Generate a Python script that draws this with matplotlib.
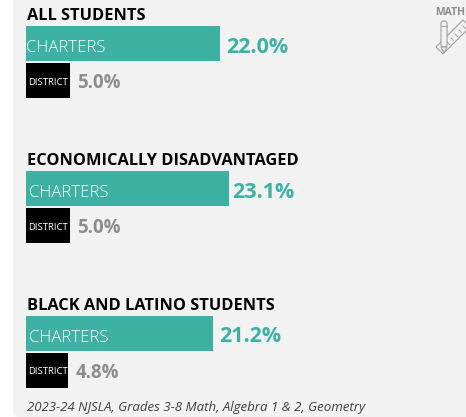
import matplotlib
matplotlib.use('Agg')
import matplotlib.pyplot as plt
from matplotlib.patches import FancyBboxPatch, Polygon

plt.rcParams['font.family'] = ['Open Sans', 'DejaVu Sans']

# data
groups = ['ALL STUDENTS', 'ECONOMICALLY DISADVANTAGED', 'BLACK AND LATINO STUDENTS']
charters = [22.0, 23.1, 21.2]
district = [5.0, 5.0, 4.8]
source = '2023-24 NJSLA, Grades 3-8 Math, Algebra 1 & 2, Geometry'

TEAL = '#3eb1a5'
GREY = '#8c8c8c'
PX = 8.8  # pixels per percentage point

fig = plt.figure(figsize=(4.66, 4.17), dpi=100, facecolor='white')

# page coordinates, in pixels
bg = fig.add_axes([0, 0, 1, 1])
bg.set_xlim(0, 466)
bg.set_ylim(417, 0)
bg.axis('off')
bg.add_patch(FancyBboxPatch((13, -20), 480, 437, boxstyle='round,pad=0,rounding_size=6',
                            fc='#f2f2f2', ec='none'))

# value axes, x is in percent
ax = fig.add_axes([0, 0, 1, 1])
ax.set_xlim(-26 / PX, 440 / PX)
ax.set_ylim(417, 0)
ax.axis('off')

tops = [26, 171, 316]
label_pad = [0.8, 0.35, 0.7]
for i, g in enumerate(groups):
    top = tops[i]
    ax.text(0.1, top - 10, g, fontsize=11.8, fontweight='bold', color='black', va='center')

    ax.barh(top + 17.5, charters[i], height=35, left=0, color=TEAL)
    ax.text(0.05 if i == 0 else 0.35, top + 21.5, 'CHARTERS', fontsize=12.1, color='white',
            va='center', fontweight='light')
    ax.text(charters[i] + label_pad[i], top + 21, f'{charters[i]:.1f}%', fontsize=15.5,
            fontweight='bold', color=TEAL, va='center')

    ax.barh(top + 54.5, district[i], height=35, left=0, color='black')
    ax.text(district[i] / 2 + 0.05, top + 56, 'DISTRICT', fontsize=6.8, color='white', va='center',
            ha='center')
    ax.text(district[i] + 0.85, top + 56.5, f'{district[i]:.1f}%', fontsize=13.4, fontweight='bold',
            color=GREY, va='center')

ax.text(0.1, 408, source, fontsize=9.5, style='italic', color='#404040', va='center')

# math icon
bg.text(435, 12, 'MATH', fontsize=7.5, fontweight='bold', color=GREY, va='center', clip_on=False)
icon = dict(fill=False, ec='#a0a0a0', lw=0.8)
bg.add_patch(Polygon([(436, 47), (463, 20), (470, 27), (443, 54)], **icon))
for k in range(5):
    x = 447 + k * 4
    y = 43 - k * 4
    bg.plot([x, x + 2.5], [y - 1, y + 1.5], color='#a0a0a0', lw=0.7)
bg.add_patch(FancyBboxPatch((441, 21), 6, 26, boxstyle='round,pad=0,rounding_size=2.5',
                            fc='#f2f2f2', ec='#a0a0a0', lw=0.8))
bg.add_patch(Polygon([(441, 47), (447, 47), (444, 53)], fc='#f2f2f2', ec='#a0a0a0', lw=0.8))
bg.plot([441, 447], [26, 26], color='#a0a0a0', lw=0.7)

fig.savefig('out.png', dpi=100)
